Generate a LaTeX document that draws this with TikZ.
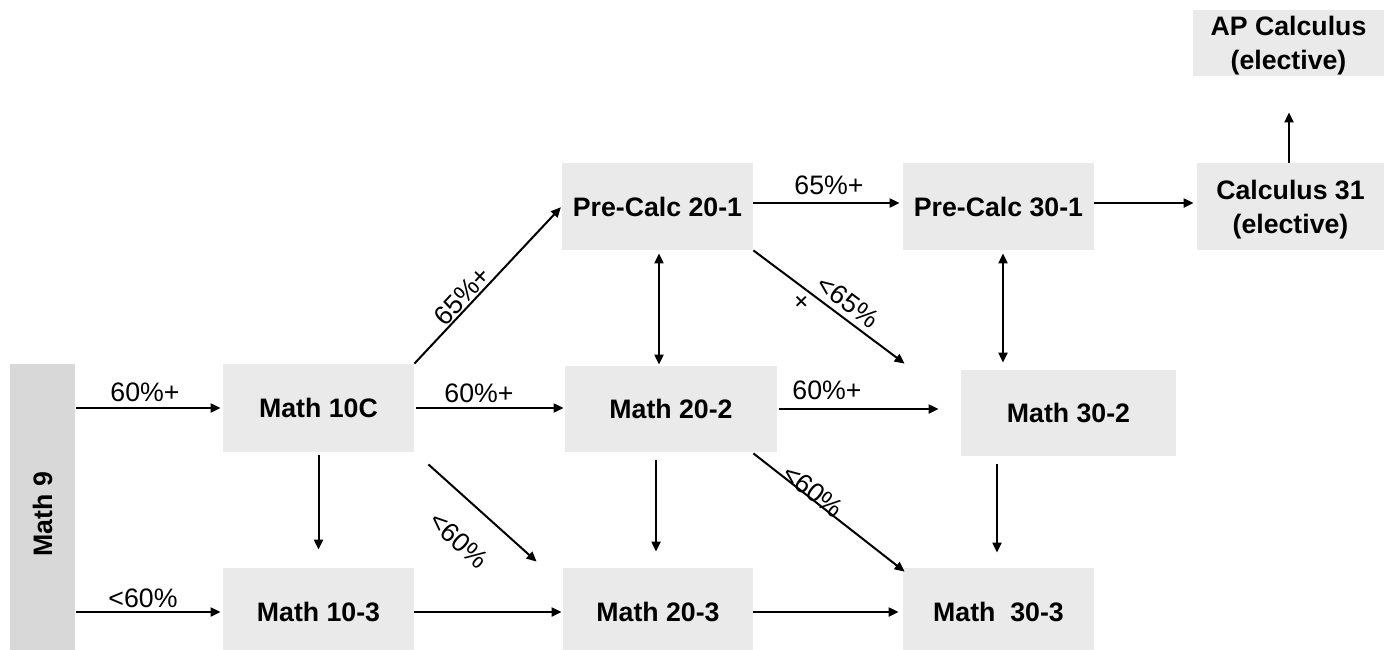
\documentclass[tikz,border=0pt]{standalone}
\usepackage{fontspec}
\setmainfont{Liberation Sans}
\usetikzlibrary{arrows.meta}
\definecolor{boxgray}{RGB}{234,234,234}
\definecolor{sidegray}{RGB}{216,216,216}
\begin{document}
\begin{tikzpicture}[x=0.5pt,y=-0.5pt,
  box/.style={fill=boxgray, inner sep=0pt, font=\fontsize{13.35}{16.5}\selectfont\bfseries, align=center, minimum width=95.5pt, minimum height=44pt},
  btext/.style={inner sep=0pt, font=\fontsize{13.35}{17}\selectfont\bfseries, align=center},
  arr/.style={line width=1pt, -{Triangle[length=5pt,width=4.5pt]}},
  darr/.style={line width=1pt, {Triangle[length=5pt,width=4.5pt]}-{Triangle[length=5pt,width=4.5pt]}},
  lab/.style={font=\fontsize{13.35}{16}\selectfont, inner sep=0pt}]
\fill[white] (0,0) rectangle (1391,649);
\useasboundingbox (0,0) rectangle (1391,649);
% boxes
\node[box, fill=sidegray, minimum width=32.5pt, minimum height=150pt] (m9) at (42.5,514) {\rotatebox{90}{Math 9}};
\node[box] (m10c) at (318.5,408) {Math 10C};
\node[box] (m103) at (318.5,612) {Math 10-3};
\node[box, minimum height=43.5pt] (pc201) at (657.5,206.5) {Pre-Calc 20-1};
\node[box, minimum width=106pt, minimum height=43pt] (m202) at (671,409) {Math 20-2};
\node[box, minimum width=95pt] (m203) at (658,612) {Math 20-3};
\node[box, minimum height=43.5pt] (pc301) at (998.5,206.5) {Pre-Calc 30-1};
\node[box, minimum width=107.5pt, minimum height=43pt] (m302) at (1068.5,413) {Math 30-2};
\node[box] (m303) at (998.5,612) {Math\ \ 30-3};
\node[box, minimum width=93.5pt, minimum height=43.5pt] (c31) at (1290.5,206.5) {};
\node[btext] (c31t) at (1290.5,210) {Calculus 31\\(elective)};
\node[box, minimum height=33pt] (ap) at (1288.5,43) {};
\node[btext] (apt) at (1288.5,46) {AP Calculus\\(elective)};
% connectors
\draw[arr, shorten <=0.5pt, shorten >=1pt] (m9.east |- m10c.west) -- (m10c.west);
\draw[arr, shorten <=0.5pt, shorten >=1pt] (m9.east |- m103.west) -- (m103.west);
\draw[arr, shorten <=1pt, shorten >=0.5pt] (m10c.east) -- (m10c.east -| m202.west);
\draw[arr, shorten >=0.5pt] (m10c.north east) -- (pc201.west);
\draw[arr, shorten <=1.5pt, shorten >=9pt] (m10c.south) -- (m10c.south |- m103.north);
\draw[arr] ([shift={(14,12)}]m10c.south east) -- ([shift={(-26,-6)}]m203.north west);
\draw[arr, shorten >=0.5pt] (m103.east) -- (m103.east -| m203.west);
\draw[darr, shorten <=1.5pt, shorten >=0.5pt] ([xshift=0.75pt]pc201.south) -- ([xshift=0.75pt]pc201.south |- m202.north);
\draw[arr, shorten <=4pt, shorten >=8pt] ([xshift=-1pt]m203.north |- m202.south) -- ([xshift=-1pt]m203.north);
\draw[arr, shorten >=1.5pt] ([yshift=1.75pt]pc201.east) -- ([yshift=1.75pt]pc301.west);
\draw[arr] (pc201.south east) -- ([shift={(-56,-6)}]m302.north west);
\draw[arr, shorten <=1pt, shorten >=11pt] (m202.east) -- (m202.east -| m302.west);
\draw[arr] ([shift={(-24,1)}]m202.south east) -- ([shift={(2,4)}]m303.north west);
\draw[arr, shorten >=2pt] (m203.east) -- (m203.east -| m303.west);
\draw[darr, shorten <=1.5pt, shorten >=3.5pt] ([xshift=2.25pt]pc301.south) -- ([xshift=2.25pt]pc301.south |- m302.north);
\draw[arr, shorten <=4pt, shorten >=7.5pt] ([xshift=-0.75pt]m303.north |- m302.south) -- ([xshift=-0.75pt]m303.north);
\draw[arr, shorten >=1.5pt] ([yshift=1.75pt]pc301.east) -- ([yshift=1.75pt]pc301.east -| c31.west);
\draw[arr, shorten >=18pt] ([xshift=-0.75pt]c31.north) -- ([xshift=-0.75pt]c31.north |- ap.south);
% labels
\node[lab] (l1) at (145,392) {60\%+};
\node[lab] (l2) at (143,598) {<60\%};
\node[lab] (l3) at (479,393) {60\%+};
\node[lab] (l4) at (827,390) {60\%+};
\node[lab] (l5) at (829,185) {65\%+};
\node[lab, rotate=47] (l6) at (462,296) {65\%+};
\node[lab, rotate=-37] (l7) at (848,302) {<65\%};
\node[lab, rotate=45] (l8) at (803,303) {+};
\node[lab, rotate=-38] (l9) at (813,491) {<60\%};
\node[lab, rotate=-42] (l10) at (459,540) {<60\%};
\end{tikzpicture}
\end{document}
